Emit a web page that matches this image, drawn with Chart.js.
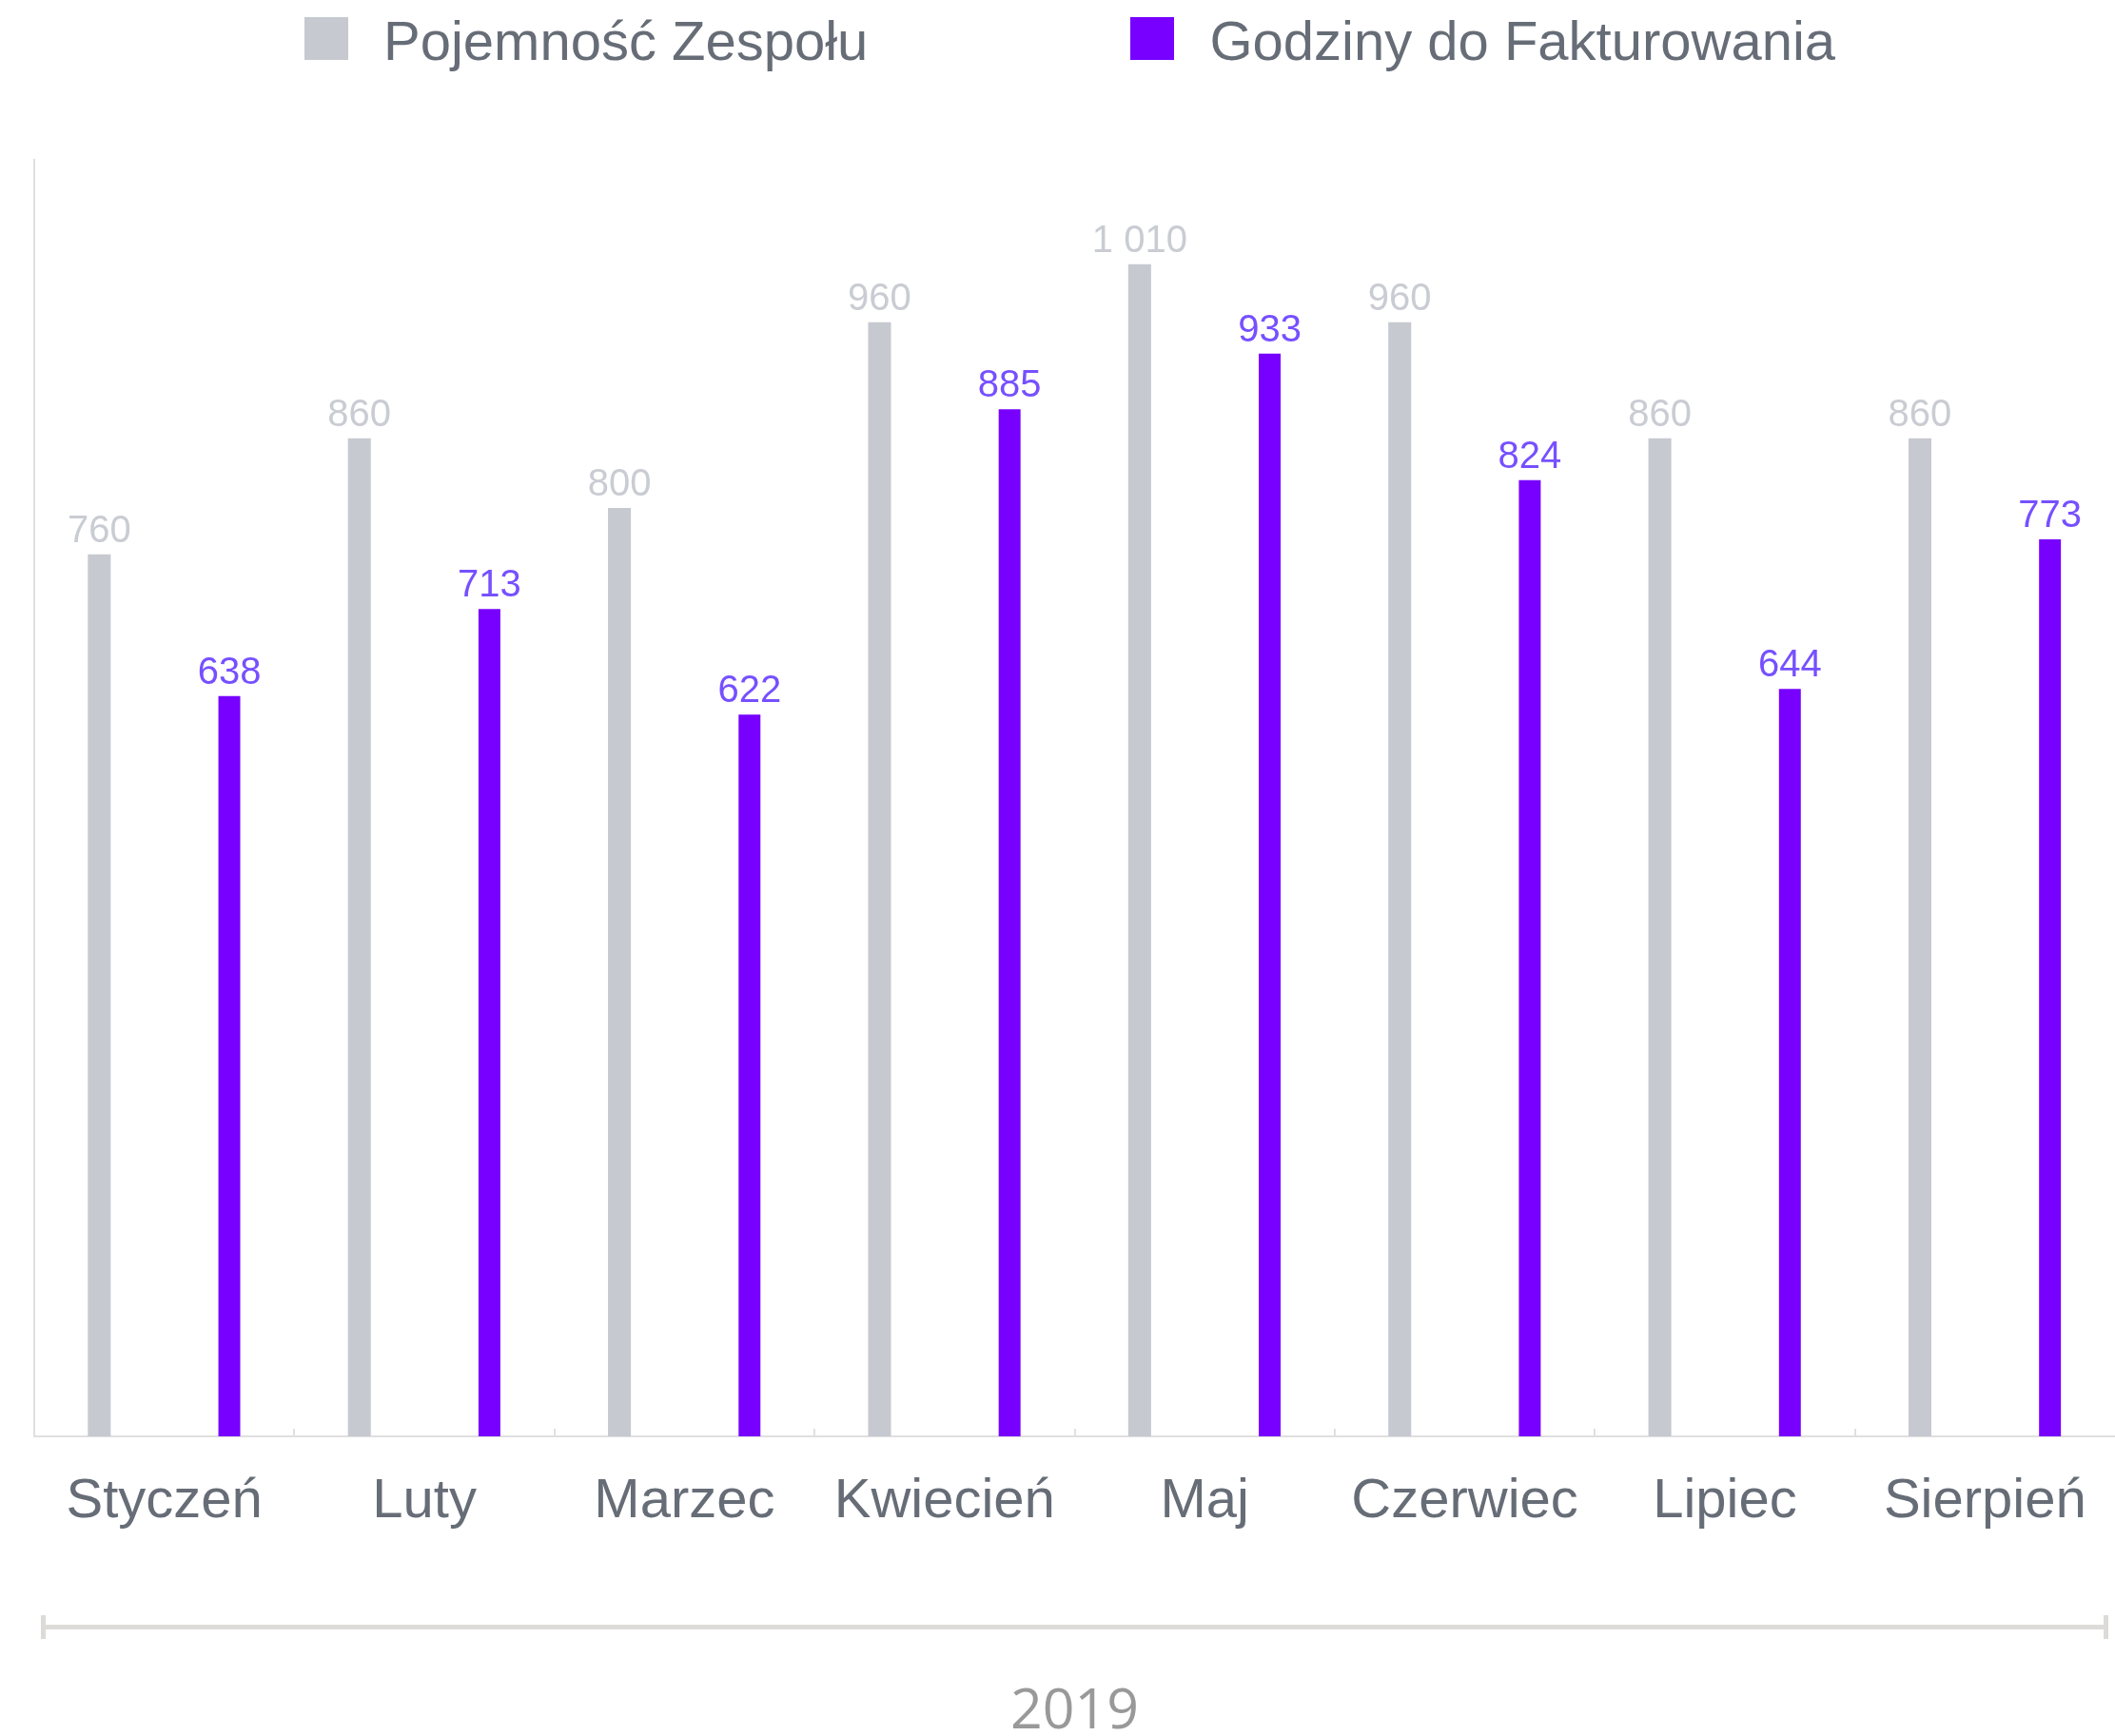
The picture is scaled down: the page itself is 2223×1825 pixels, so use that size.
<!DOCTYPE html>
<html lang="pl">
<head>
<meta charset="utf-8">
<title>Pojemność zespołu vs godziny do fakturowania</title>
<script src="https://cdn.jsdelivr.net/npm/chart.js@4.4.1/dist/chart.umd.min.js"></script>
<style>
  html,body{margin:0;padding:0;background:#fff;}
  body{width:2223px;height:1825px;position:relative;overflow:hidden;font-family:"Liberation Sans",Arial,sans-serif;}
  #chart{position:absolute;left:0;top:0;}
  #legend{position:absolute;left:320px;top:18px;display:flex;align-items:center;gap:276px;}
  .legend-item{display:flex;align-items:center;height:45px;}
  .legend-sq{width:46px;height:45px;display:inline-block;}
  .legend-txt{margin-left:37px;font-size:58px;line-height:58px;color:#676d77;position:relative;top:2px;white-space:nowrap;}
  #bracket{position:absolute;left:43px;top:1698px;width:2163px;height:25px;border-left:5px solid #dcdbd9;border-right:5px solid #dcdbd9;}
  #bracket::after{content:"";position:absolute;left:0;right:0;top:10px;height:5px;background:#dcdbd9;}
  #year{position:absolute;left:43px;width:2173px;top:1765px;text-align:center;font-family:"Open Sans",sans-serif;font-size:59px;line-height:59px;color:#999;}
</style>
</head>
<body>
<div id="legend"></div>
<canvas id="chart" width="2223" height="1825"></canvas>
<div id="bracket"></div>
<div id="year"></div>
<script>
// dane
const months=['Styczeń','Luty','Marzec','Kwiecień','Maj','Czerwiec','Lipiec','Sierpień'];
const capacity=[760,860,800,960,1010,960,860,860];
const billable=[638,713,622,885,933,824,644,773];
const seriesNames=['Pojemność Zespołu','Godziny do Fakturowania'];
const yearLabel='2019';

const C_GRAY='#c6c9d0', C_PURPLE='#7700ff';
const L_GRAY='#c9ccd2', L_PURPLE='#7650ff';
const TXT='#676d77', AXIS='#e0e0e0';

// 1 010 zamiast 1010
const fmt=v=>String(v).replace(/\B(?=(\d{3})+(?!\d))/g,' ');

// wartości nad słupkami
const valueLabels={
  id:'valueLabels',
  afterDatasetsDraw(chart){
    const ctx=chart.ctx;
    ctx.save();
    ctx.font='40px "Liberation Sans", Arial, sans-serif';
    ctx.textAlign='center';
    ctx.textBaseline='alphabetic';
    chart.data.datasets.forEach((ds,di)=>{
      const meta=chart.getDatasetMeta(di);
      ctx.fillStyle=ds.labelColor;
      meta.data.forEach((bar,i)=>ctx.fillText(fmt(ds.data[i]),bar.x,bar.y-13));
    });
    ctx.restore();
  }
};

// krótkie kreski na granicach kategorii (do góry od osi)
const boundaryTicks={
  id:'boundaryTicks',
  afterDraw(chart){
    const xs=chart.scales.x, ctx=chart.ctx, b=chart.chartArea.bottom;
    ctx.save();
    ctx.strokeStyle=AXIS;ctx.lineWidth=2;
    for(let i=1;i<months.length;i++){
      const x=Math.round((xs.getPixelForValue(i-1)+xs.getPixelForValue(i))/2);
      ctx.beginPath();ctx.moveTo(x,b);ctx.lineTo(x,b-8);ctx.stroke();
    }
    ctx.restore();
  }
};

const chart=new Chart(document.getElementById('chart'),{
  type:'bar',
  data:{
    labels:months,
    datasets:[
      {label:seriesNames[0],data:capacity,backgroundColor:C_GRAY,labelColor:L_GRAY,categoryPercentage:1,barPercentage:0.176},
      {label:seriesNames[1],data:billable,backgroundColor:C_PURPLE,labelColor:L_PURPLE,categoryPercentage:1,barPercentage:0.168}
    ]
  },
  options:{
    responsive:false,animation:false,
    layout:{padding:{top:168,left:36,right:0,bottom:205}},
    plugins:{legend:{display:false},tooltip:{enabled:false}},
    scales:{
      x:{
        grid:{display:false},
        border:{display:true,color:AXIS,width:2},
        ticks:{font:{family:'"Liberation Sans", Arial, sans-serif',size:58},color:TXT,padding:26,maxRotation:0,autoSkip:false},
        afterFit:s=>{s.height=110;}
      },
      y:{
        min:0,max:1100,
        grid:{display:false},
        border:{display:true,color:AXIS,width:2},
        ticks:{display:false},
        afterFit:s=>{s.width=0;}
      }
    }
  },
  plugins:[valueLabels,boundaryTicks]
});

// legenda HTML
document.getElementById('legend').innerHTML=chart.data.datasets.map(ds=>
  `<span class="legend-item"><span class="legend-sq" style="background:${ds.backgroundColor}"></span><span class="legend-txt">${ds.label}</span></span>`).join('');
document.getElementById('year').textContent=yearLabel;
</script>
</body>
</html>
